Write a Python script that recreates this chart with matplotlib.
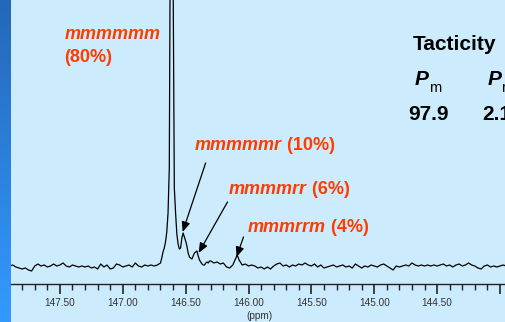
import numpy as np
import matplotlib
matplotlib.use('Agg')
import matplotlib.pyplot as plt
from matplotlib.ticker import FixedLocator, MultipleLocator

plt.rcParams['font.family'] = ['Liberation Sans', 'DejaVu Sans']

ppm_left = [147.900, 147.875, 147.850, 147.825, 147.800, 147.775, 147.750, 147.725,
            147.700, 147.675, 147.650, 147.625, 147.600, 147.575, 147.550, 147.525,
            147.500, 147.475, 147.450, 147.425, 147.400, 147.375, 147.350, 147.325,
            147.300, 147.275, 147.250, 147.225, 147.200, 147.175, 147.150, 147.125,
            147.100, 147.075, 147.050, 147.025, 147.000, 146.975, 146.950, 146.925,
            146.900, 146.875, 146.850, 146.825, 146.800, 146.775, 146.750, 146.725,
            146.700]
int_left = [2, 3, 1, 0, -1, 0, -2, -3,
            2, 4, 2, 3, 1, 2, 4, 2,
            3, 5, 2, 1, 3, 2, 1, 2,
            1, 2, 0, 1, -1, 4, 1, 3,
            -1, 0, 4, 3, 1, 2, 3, 1,
            5, 2, 1, 3, 2, 3, 2, 3,
            5]

ppm_peak = [146.69, 146.68, 146.67, 146.66, 146.65, 146.64, 146.63, 146.62,
            146.61, 146.60, 146.59, 146.58, 146.57, 146.56, 146.55, 146.54,
            146.53, 146.52, 146.51, 146.50, 146.49, 146.48, 146.47, 146.46,
            146.45, 146.44, 146.43, 146.42, 146.41, 146.40, 146.39, 146.38,
            146.37, 146.36, 146.35, 146.34, 146.33, 146.32, 146.31]
int_peak = [10, 16, 20, 26, 36, 55, 100, 400,
            480, 300, 80, 55, 34, 24, 19, 20,
            30, 35, 31, 27, 22, 15, 11, 10,
            9, 12, 15, 16, 17, 12, 8, 6,
            4, 3, 3, 5, 6, 5, 7]

ppm_right = [146.300, 146.275, 146.250, 146.225, 146.200, 146.175, 146.150, 146.125,
             146.100, 146.090, 146.075, 146.050, 146.025, 146.000, 145.975, 145.950,
             145.925, 145.900, 145.875, 145.850, 145.825, 145.800, 145.775, 145.750,
             145.725, 145.700, 145.675, 145.650, 145.625, 145.600, 145.575, 145.550,
             145.525, 145.500, 145.475, 145.450, 145.425, 145.400, 145.375, 145.350,
             145.325, 145.300, 145.275, 145.250, 145.225, 145.200, 145.175, 145.150,
             145.125, 145.100, 145.075, 145.050, 145.025, 145.000, 144.975, 144.950,
             144.925, 144.900, 144.875, 144.850, 144.825, 144.800, 144.775, 144.750,
             144.725, 144.700, 144.675, 144.650, 144.625, 144.600, 144.575, 144.550,
             144.525, 144.500, 144.475, 144.450, 144.425, 144.400, 144.375, 144.350,
             144.325, 144.300, 144.275, 144.250, 144.225, 144.200, 144.175, 144.150,
             144.125, 144.100, 144.075, 144.050, 144.025, 144.000, 143.975, 143.950]
int_right = [7, 5, 6, 4, 5, 1, 0, 3,
             10, 13, 8, 3, 4, 2, 3, 2,
             0, 1, -1, 1, -1, 2, 4, 5,
             2, 3, 1, 3, 2, 4, 3, 5,
             3, 2, 4, 1, 3, 0, 1, 2,
             3, 1, 2, 3, 1, 2, 0, 4,
             2, 0, 2, 1, 3, 2, 1, 3,
             4, 2, 0, -2, 2, 1, 2, 3,
             2, 5, 3, 2, 3, 2, 3, 2,
             3, 2, 3, 4, 2, 3, 1, 3,
             4, 2, 3, 5, 3, 2, 0, -1,
             2, 3, 1, 2, 1, 2, 3, 2]

tick_pos = [147.5, 147.0, 146.5, 146.0, 145.5, 145.0, 144.5, 144.0]
tick_lab = ['147.50', '147.00', '146.50', '146.00', '145.50', '145.00', '144.50', '']

labels = ['mmmmmr', 'mmmmrr', 'mmmrrm']
shares = [' (10%)', ' (6%)', ' (4%)']
peak_ppm = [146.524, 146.397, 146.095]
peak_int = [36, 15, 11]
tail_ppm = [146.341, 146.167, 146.040]
tail_int = [105, 66, 31]

W, H = 505, 322
bg = '#CCEBFD'
red = '#FF3C00'

fig = plt.figure(figsize=(W / 100, H / 100), dpi=100, facecolor=bg)

# blue strip on the left
strip = fig.add_axes([0, 0, 11 / W, 1])
grad = np.linspace(0, 1, 100).reshape(-1, 1)
top_c = np.array([0x24, 0x68, 0xB8]) / 255
bot_c = np.array([0x33, 0x99, 0xFF]) / 255
img = top_c + (bot_c - top_c) * grad[:, :, None]
strip.imshow(img, aspect='auto', extent=[0, 1, 0, 1])
strip.axis('off')

ax = fig.add_axes([11 / W, 38 / H, 494 / W, 284 / H])
ax.set_facecolor(bg)
x = ppm_left + ppm_peak + ppm_right
y = int_left + int_peak + int_right
ax.plot(x, y, color='black', lw=0.9, clip_on=True)
ax.set_xlim(147.889, 143.96)
ax.set_ylim(-16, 268)

for s in ['top', 'left', 'right']:
    ax.spines[s].set_visible(False)
ax.spines['bottom'].set_color('#222222')
ax.spines['bottom'].set_linewidth(1.0)
ax.set_yticks([])
ax.xaxis.set_major_locator(FixedLocator(tick_pos))
ax.set_xticklabels(tick_lab)
ax.xaxis.set_minor_locator(MultipleLocator(0.1))
ax.tick_params(axis='x', which='major', length=7, width=1.2, color='#222222',
               labelsize=7.2, labelcolor='#333333', pad=3)
ax.tick_params(axis='x', which='minor', length=4, width=1.0, color='#222222')

fig.text(259 / W, 1 - 316 / H, '(ppm)', fontsize=7.2, color='#333333',
         ha='center', va='center')

def ft(px, py, s, **kw):
    return fig.text(px / W, 1 - py / H, s, va='baseline', **kw)

ft(65, 39, 'mmmmmm', fontsize=13, fontweight='bold', style='italic', color=red)
ft(64, 62, '(80%)', fontsize=13, fontweight='bold', color=red)

label_x = [195, 229, 248]
label_y = [149.5, 193.5, 231.5]
for lx, ly, lab, sh in zip(label_x, label_y, labels, shares):
    t = ft(lx, ly, lab, fontsize=13, fontweight='bold', style='italic', color=red)
    ax.annotate(sh, xy=(1, 0), xycoords=t, va='bottom', ha='left',
                fontsize=13, fontweight='bold', color=red,
                annotation_clip=False)

for px, pi, tx, ti in zip(peak_ppm, peak_int, tail_ppm, tail_int):
    ax.annotate('', xy=(px, pi), xytext=(tx, ti),
                arrowprops=dict(arrowstyle='-|>,head_length=0.6,head_width=0.25',
                                color='black', lw=0.9, shrinkA=0, shrinkB=0))

ft(413, 49.5, 'Tacticity', fontsize=15, fontweight='bold', color='black')
ft(415, 85, 'P', fontsize=15, fontweight='bold', style='italic', color='black')
ft(429, 92, 'm', fontsize=10.5, color='black')
ft(488, 85, 'P', fontsize=15, fontweight='bold', style='italic', color='black')
ft(502, 92, 'r', fontsize=10.5, color='black')
ft(408, 120, '97.9', fontsize=15, fontweight='bold', color='black')
ft(482, 120, '2.1', fontsize=15, fontweight='bold', color='black')

fig.savefig('out.png', dpi=100, facecolor=bg)
